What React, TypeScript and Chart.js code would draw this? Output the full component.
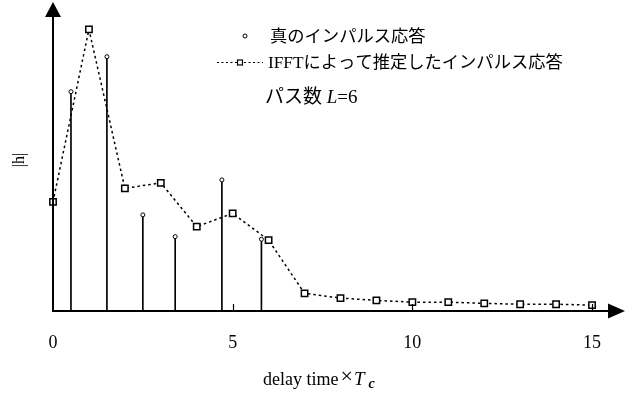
import React, { useEffect, useRef } from 'react';
import { Chart, registerables } from 'chart.js';

Chart.register(...registerables);

// True multipath channel: path delays (in chip periods) and magnitudes
const pathDelays = [0.5, 1.5, 2.5, 3.4, 4.7, 5.8];
const pathGains = [0.746, 0.865, 0.327, 0.253, 0.446, 0.244];

// Impulse response estimated by IFFT, sampled at integer delays
const ifftDelays = [0, 1, 2, 3, 4, 5, 6, 7, 8, 9, 10, 11, 12, 13, 14, 15];
const ifftGains = [
  0.371, 0.958, 0.417, 0.436, 0.287, 0.332, 0.241, 0.06,
  0.044, 0.036, 0.03, 0.03, 0.026, 0.023, 0.023, 0.02,
];

const xTickValues = [0, 5, 10, 15];

const legendTrue = '真のインパルス応答';
const legendIfft = 'IFFTによって推定したインパルス応答';
const pathCountPrefix = 'パス数 ';
const pathCountSymbol = 'L';
const pathCountValue = '=6';
const xTitleMain = 'delay time';
const xTitleTimes = '×';
const xTitleSymbol = 'T';
const xTitleSub = 'c';
const yTitle = '|h|';

const SERIF = "'Liberation Serif', 'Times New Roman', 'Noto Sans CJK JP', serif";

const decorations = {
  id: 'decorations',
  afterDraw(chart: any) {
    const { ctx } = chart;
    const xs = chart.scales.x;
    const ys = chart.scales.y;
    const x0 = xs.getPixelForValue(0);
    const y0 = ys.getPixelForValue(0);

    ctx.save();
    ctx.fillStyle = '#000';
    ctx.strokeStyle = '#000';

    // axes with arrow heads
    ctx.lineWidth = 2;
    ctx.beginPath();
    ctx.moveTo(x0, y0);
    ctx.lineTo(x0, 16);
    ctx.moveTo(x0 - 1, y0);
    ctx.lineTo(609, y0);
    ctx.stroke();
    ctx.beginPath();
    ctx.moveTo(x0, 2);
    ctx.lineTo(x0 - 8, 17);
    ctx.lineTo(x0 + 8, 17);
    ctx.closePath();
    ctx.fill();
    ctx.beginPath();
    ctx.moveTo(625, y0);
    ctx.lineTo(608, y0 - 7.5);
    ctx.lineTo(608, y0 + 7.5);
    ctx.closePath();
    ctx.fill();

    // short tick marks on the delay axis
    ctx.lineWidth = 1.2;
    ctx.beginPath();
    xTickValues.forEach((v) => {
      if (v === 0) return;
      const px = Math.round(xs.getPixelForValue(v)) + 0.5;
      ctx.moveTo(px, y0);
      ctx.lineTo(px, y0 - 7);
    });
    ctx.stroke();

    // legend
    ctx.font = `17.3px ${SERIF}`;
    ctx.textBaseline = 'middle';
    ctx.textAlign = 'left';
    ctx.lineWidth = 1;
    ctx.fillStyle = '#fff';
    ctx.beginPath();
    ctx.arc(245, 36, 2, 0, Math.PI * 2);
    ctx.fill();
    ctx.stroke();
    ctx.fillStyle = '#000';
    ctx.fillText(legendTrue, 270, 37);

    ctx.setLineDash([2, 2.5]);
    ctx.beginPath();
    ctx.moveTo(217, 62.5);
    ctx.lineTo(263, 62.5);
    ctx.stroke();
    ctx.setLineDash([]);
    ctx.fillStyle = '#fff';
    ctx.fillRect(237.5, 60, 5, 5);
    ctx.lineWidth = 1.2;
    ctx.strokeRect(237.5, 60, 5, 5);
    ctx.fillStyle = '#000';
    ctx.fillText(legendIfft, 268, 63);

    // number of paths
    ctx.font = `19px ${SERIF}`;
    let tx = 265;
    ctx.fillText(pathCountPrefix, tx, 98);
    tx += ctx.measureText(pathCountPrefix).width;
    ctx.font = `italic 19px ${SERIF}`;
    ctx.fillText(pathCountSymbol, tx, 98);
    tx += ctx.measureText(pathCountSymbol).width;
    ctx.font = `19px ${SERIF}`;
    ctx.fillText(pathCountValue, tx, 98);

    // delay axis title
    ctx.textBaseline = 'alphabetic';
    ctx.font = `18px ${SERIF}`;
    tx = 263;
    ctx.fillText(xTitleMain, tx, 385);
    tx += ctx.measureText(xTitleMain).width + 2;
    ctx.font = `22px ${SERIF}`;
    ctx.fillText(xTitleTimes, tx, 383);
    tx += ctx.measureText(xTitleTimes).width + 1;
    ctx.font = `italic 19px ${SERIF}`;
    ctx.fillText(xTitleSymbol, tx, 385);
    tx += ctx.measureText(xTitleSymbol).width + 4;
    ctx.font = `italic bold 14px ${SERIF}`;
    ctx.fillText(xTitleSub, tx, 388);

    // magnitude axis title
    ctx.font = `16px ${SERIF}`;
    ctx.textAlign = 'center';
    ctx.textBaseline = 'middle';
    ctx.translate(20, 160);
    ctx.rotate(-Math.PI / 2);
    ctx.fillText(yTitle, 0, 0);

    ctx.restore();
  },
};

export default function App() {
  const canvasRef = useRef<HTMLCanvasElement | null>(null);

  useEffect(() => {
    const canvas = canvasRef.current;
    if (!canvas) return;

    const chart = new Chart(canvas, {
      type: 'line',
      data: {
        datasets: [
          {
            type: 'bar',
            data: pathDelays.map((d, i) => ({ x: d, y: pathGains[i] })),
            backgroundColor: '#000',
            borderWidth: 0,
            barThickness: 1,
            order: 3,
            clip: false,
          } as any,
          {
            type: 'line',
            data: ifftDelays.map((d, i) => ({ x: d, y: ifftGains[i] })),
            borderColor: '#000',
            borderWidth: 1.5,
            borderDash: [2.5, 3],
            tension: 0,
            pointStyle: 'rect',
            pointRadius: 4.5,
            pointBackgroundColor: '#fff',
            pointBorderColor: '#000',
            pointBorderWidth: 1.5,
            order: 2,
            clip: false,
          } as any,
          {
            type: 'line',
            data: pathDelays.map((d, i) => ({ x: d, y: pathGains[i] })),
            showLine: false,
            pointStyle: 'circle',
            pointRadius: 2,
            pointBackgroundColor: '#fff',
            pointBorderColor: '#000',
            pointBorderWidth: 1,
            order: 1,
            clip: false,
          } as any,
        ],
      },
      options: {
        animation: false,
        responsive: false,
        devicePixelRatio: 1,
        layout: { padding: { top: 17, right: 30, bottom: 0, left: 0 } },
        plugins: {
          legend: { display: false },
          tooltip: { enabled: false },
        },
        scales: {
          x: {
            type: 'linear',
            min: 0,
            max: 15.5,
            offset: false,
            grid: { display: false, offset: false },
            border: { display: false },
            ticks: {
              color: '#000',
              font: { family: SERIF, size: 18 },
              padding: 13,
              maxRotation: 0,
              autoSkip: false,
            },
            afterBuildTicks: (scale: any) => {
              scale.ticks = xTickValues.map((v) => ({ value: v }));
            },
            afterFit: (scale: any) => {
              scale.height = 83;
            },
          },
          y: {
            type: 'linear',
            min: 0,
            max: 1,
            grid: { display: false },
            border: { display: false },
            ticks: { display: false },
            afterFit: (scale: any) => {
              scale.width = 53;
            },
          },
        },
      },
      plugins: [decorations],
    });

    return () => chart.destroy();
  }, []);

  return (
    <div style={{ position: 'fixed', left: 0, top: 0, width: 640, height: 394, background: '#fff' }}>
      <canvas ref={canvasRef} width={640} height={394} />
    </div>
  );
}
